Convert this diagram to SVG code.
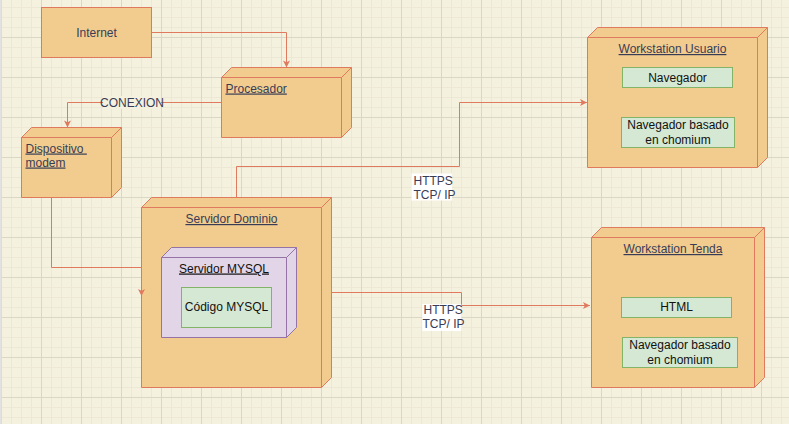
<svg xmlns="http://www.w3.org/2000/svg" width="789" height="424" viewBox="0 0 789 424">
<style>
text{font-family:"Liberation Sans",Arial,sans-serif;font-size:12px;}
.t{fill:#393C56;}
.k{fill:#111111;}
.u{text-decoration:underline;}
.m{text-anchor:middle;}
.node{fill:#F2CC8F;stroke:#E07A5F;stroke-width:1;}
.pur{fill:#E1D5E7;stroke:#9673A6;stroke-width:1;}
.grn{fill:#D5E8D4;stroke:#82B366;stroke-width:1;}
.edge{fill:none;stroke:#E07A5F;stroke-width:1;}
</style>
<defs>
<pattern id="grid" patternUnits="userSpaceOnUse" x="1" y="-3" width="40" height="40">
<rect width="40" height="40" fill="#F4F1DE"/>
<path d="M10.5,0V40M20.5,0V40M30.5,0V40M0,10.5H40M0,20.5H40M0,30.5H40" stroke="#ECE8D5" stroke-width="1"/>
<path d="M0.5,0V40M0,0.5H40" stroke="#DAD7C6" stroke-width="1"/>
</pattern>
<marker id="arr" viewBox="0 0 10 10" refX="10" refY="5" markerWidth="8" markerHeight="7" markerUnits="userSpaceOnUse" orient="auto">
<path d="M0,0L10,5L0,10L2.5,5Z" fill="#E07A5F" stroke="none"/>
</marker>
</defs>
<rect width="789" height="424" fill="url(#grid)"/>
<rect x="0" y="0" width="1.5" height="424" fill="#E2E2E2"/>

<g id="internet">
<rect class="node" x="41.5" y="7.5" width="110" height="50"/>
<text class="t m" x="96.5" y="36.5">Internet</text>
</g>

<g id="procesador">
<path class="node" d="M221.5,77.5L231.5,67.5H351.5V127.5L341.5,137.5H221.5Z"/>
<path class="edge" d="M221.5,77.5H341.5V137.5M341.5,77.5L351.5,67.5"/>
<text class="t u" x="225.5" y="92.5">Procesador</text>
</g>

<g id="modem">
<path class="node" d="M21.5,137.5L31.5,127.5H121.5V187.5L111.5,197.5H21.5Z"/>
<path class="edge" d="M21.5,137.5H111.5V197.5M111.5,137.5L121.5,127.5"/>
<text class="t u" x="25.5" y="152.5" style="white-space:pre">Dispositivo </text>
<text class="t u" x="25.5" y="166.5">modem</text>
</g>

<g id="servidor-dominio">
<path class="node" d="M141.5,207.5L151.5,197.5H331.5V377.5L321.5,387.5H141.5Z"/>
<path class="edge" d="M141.5,207.5H321.5V387.5M321.5,207.5L331.5,197.5"/>
<text class="t u m" x="231.5" y="223">Servidor Dominio</text>
</g>

<g id="servidor-mysql">
<path class="pur" d="M161.5,257.5L171.5,247.5H296.5V327.5L286.5,337.5H161.5Z"/>
<path fill="none" stroke="#9673A6" d="M161.5,257.5H286.5V337.5M286.5,257.5L296.5,247.5"/>
<text class="k u m" x="224" y="272.5">Servidor MYSQL</text>
</g>

<g id="codigo-mysql">
<rect class="grn" x="181.5" y="287.5" width="90" height="40"/>
<text class="k m" x="226.5" y="311">Código MYSQL</text>
</g>

<g id="ws-usuario">
<path class="node" d="M587.5,37.5L597.5,27.5H767.5V157.5L757.5,167.5H587.5Z"/>
<path class="edge" d="M587.5,37.5H757.5V167.5M757.5,37.5L767.5,27.5"/>
<text class="t u m" x="672.5" y="53">Workstation Usuario</text>
</g>

<g id="navegador">
<rect class="grn" x="622.5" y="67.5" width="110" height="20"/>
<text class="k m" x="677.5" y="81.5">Navegador</text>
</g>

<g id="nav-chromium-usuario">
<rect class="grn" x="621.5" y="117.5" width="113" height="30"/>
<text class="k m" x="678" y="129">Navegador basado</text>
<text class="k m" x="678" y="143.5">en chomium</text>
</g>

<g id="ws-tenda">
<path class="node" d="M591.5,237.5L601.5,227.5H764.5V377.5L754.5,387.5H591.5Z"/>
<path class="edge" d="M591.5,237.5H754.5V387.5M754.5,237.5L764.5,227.5"/>
<text class="t u m" x="673" y="253">Workstation Tenda</text>
</g>

<g id="html">
<rect class="grn" x="621.5" y="297.5" width="110" height="20"/>
<text class="k m" x="676.5" y="311">HTML</text>
</g>

<g id="nav-chromium-tenda">
<rect class="grn" x="622.5" y="337.5" width="115" height="30"/>
<text class="k m" x="680" y="349">Navegador basado</text>
<text class="k m" x="680" y="363.5">en chomium</text>
</g>

<g id="connectors">
<path class="edge" d="M151.5,32.5H286.5V67.5" marker-end="url(#arr)"/>
<path class="edge" d="M221.5,102.5H67.5V127.5" marker-end="url(#arr)"/>
<rect x="103" y="96" width="58" height="13" fill="#F4F1DE"/>
<text class="t m" x="132" y="106.5">CONEXION</text>
<path class="edge" d="M51.5,197.5V267.5H141.5V296" marker-end="url(#arr)"/>
<path class="edge" d="M236.5,197.5V166.5H459.5V102.5H587" marker-end="url(#arr)"/>
<rect x="411.5" y="173.5" width="40.5" height="27" fill="#FFFFFF"/>
<text class="t" x="413.5" y="185">HTTPS</text>
<text class="t" x="413.5" y="198.5">TCP/ IP</text>
<path class="edge" d="M331.5,292.5H461.5V305.5H590" marker-end="url(#arr)"/>
<rect x="422.3" y="304" width="39" height="27" fill="#FFFFFF"/>
<text class="t" x="423.5" y="314">HTTPS</text>
<text class="t" x="422.5" y="327.5">TCP/ IP</text>
</g>
</svg>
